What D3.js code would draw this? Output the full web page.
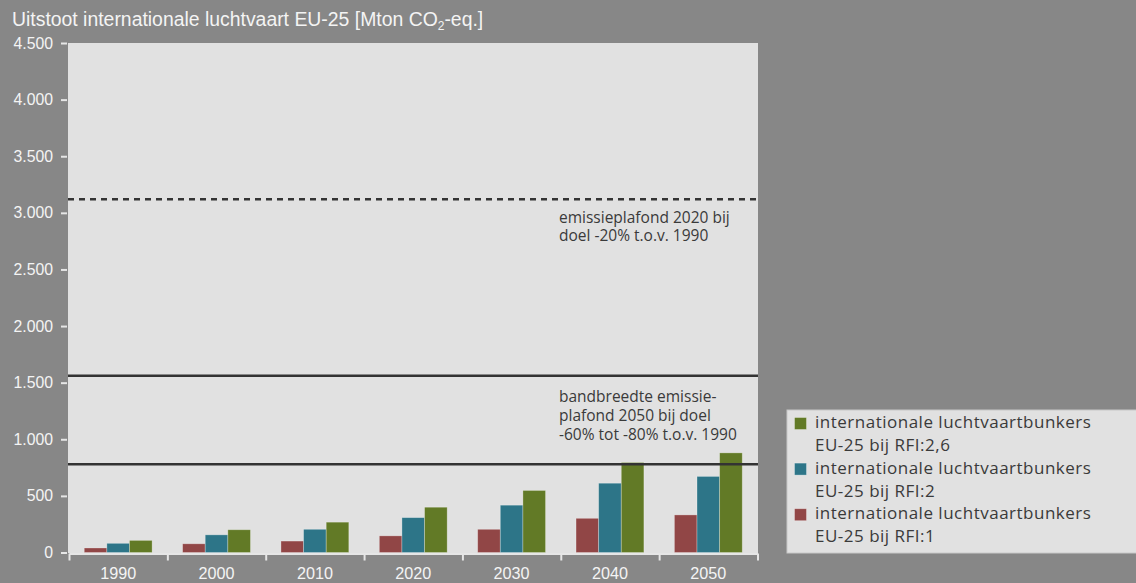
<!DOCTYPE html>
<html>
<head>
<meta charset="utf-8">
<style>
  html, body { margin: 0; padding: 0; background: #878787; }
  svg { display: block; }
</style>
</head>
<body>
<svg width="1136" height="583"></svg>
<script src="https://cdnjs.cloudflare.com/ajax/libs/d3/7.8.5/d3.min.js"></script>
<script>
  // data (Mton CO2-eq.)
  const years = ["1990", "2000", "2010", "2020", "2030", "2040", "2050"];
  const rfi1 = [40, 77, 101, 147, 205, 302, 332];
  const rfi2 = [81, 156, 205, 308, 418, 612, 672];
  const rfi26 = [107, 201, 268, 400, 548, 795, 880];
  const yTicks = [0, 500, 1000, 1500, 2000, 2500, 3000, 3500, 4000, 4500];
  const ceiling2020 = 3120;
  const band2050 = [1560, 780];

  const series = [
    {key: "rfi1", values: rfi1, color: "#914646", label: ["internationale luchtvaartbunkers", "EU-25 bij RFI:1"]},
    {key: "rfi2", values: rfi2, color: "#2d7588", label: ["internationale luchtvaartbunkers", "EU-25 bij RFI:2"]},
    {key: "rfi26", values: rfi26, color: "#627a26", label: ["internationale luchtvaartbunkers", "EU-25 bij RFI:2,6"]}
  ];

  const svg = d3.select("svg");

  const x = d3.scaleBand().domain(years).range([69, 757.5]).paddingInner(0.31).paddingOuter(0.155);
  const xs = d3.scaleBand().domain(series.map(s => s.key)).range([0, x.bandwidth()]);
  const y = d3.scaleLinear().domain([0, 4500]).range([552.5, 43]);

  // plot background
  svg.append("rect")
    .attr("x", 68).attr("y", 43)
    .attr("width", 690).attr("height", 510)
    .attr("fill", "#e1e1e1");

  // title
  const title = svg.append("text")
    .attr("x", 12).attr("y", 26)
    .attr("font-family", "Liberation Sans, Arial, sans-serif")
    .attr("font-size", 19.4)
    .attr("fill", "#f4f4f4");
  title.append("tspan").text("Uitstoot internationale luchtvaart EU-25 [Mton CO");
  title.append("tspan").attr("font-size", 12).attr("dy", 4).text("2");
  title.append("tspan").attr("dy", -4).text("-eq.]");

  // bars
  const groups = svg.append("g").selectAll("g")
    .data(years)
    .join("g")
    .attr("transform", d => "translate(" + x(d) + ",0)");

  groups.selectAll("rect")
    .data((d, i) => series.map(s => ({key: s.key, color: s.color, v: s.values[i]})))
    .join("rect")
    .attr("x", d => xs(d.key))
    .attr("y", d => y(d.v))
    .attr("width", xs.bandwidth())
    .attr("height", d => y(0) - y(d.v))
    .attr("fill", d => d.color)
    .attr("stroke", "rgba(255,255,255,0.35)")
    .attr("stroke-width", 0.8);

  // reference lines
  svg.append("line")
    .attr("x1", 68).attr("x2", 756)
    .attr("y1", y(ceiling2020)).attr("y2", y(ceiling2020))
    .attr("stroke", "#333").attr("stroke-width", 2.5)
    .attr("stroke-dasharray", "6,5");

  svg.selectAll(".band-line")
    .data(band2050)
    .join("line")
    .attr("class", "band-line")
    .attr("x1", 68).attr("x2", 758)
    .attr("y1", d => y(d)).attr("y2", d => y(d))
    .attr("stroke", "#333").attr("stroke-width", 2.5);

  // annotations
  const annoFont = "Open Sans, Noto Sans, sans-serif";
  function multiline(lines, x0, y0, lh) {
    svg.append("text")
      .attr("font-family", annoFont)
      .attr("font-size", 15.5)
      .attr("fill", "#3a3a3a")
      .selectAll("tspan")
      .data(lines)
      .join("tspan")
      .attr("x", x0)
      .attr("y", (d, i) => y0 + i * lh)
      .text(d => d);
  }
  multiline(["emissieplafond 2020 bij", "doel -20% t.o.v. 1990"], 559, 222.5, 18.8);
  multiline(["bandbreedte emissie-", "plafond 2050 bij doel", "-60% tot -80% t.o.v. 1990"], 559, 402, 19.2);

  // y axis
  const yAxis = d3.axisLeft(y)
    .tickValues(yTicks)
    .tickSize(6)
    .tickPadding(8)
    .tickFormat(d => d3.format(",")(d).replace(/,/g, "."));
  const ya = svg.append("g")
    .attr("transform", "translate(" + [67, 0] + ")")
    .call(yAxis);
  ya.select(".domain").remove();
  ya.selectAll("line").attr("stroke", "#e6e6e6").attr("stroke-width", 2);
  ya.selectAll("text")
    .attr("fill", "#f4f4f4")
    .attr("font-family", "Liberation Sans, Arial, sans-serif")
    .attr("font-size", 15.8);

  // x axis: boundary ticks + centred year labels
  const xb = d3.scaleLinear().domain([0, years.length]).range([69, 757.5]);
  const xa = svg.append("g")
    .attr("transform", "translate(" + [0, 553.5] + ")")
    .call(d3.axisBottom(xb).tickValues(d3.range(years.length + 1)).tickSize(7).tickSizeOuter(0).tickFormat(""));
  xa.select(".domain").attr("stroke", "#e6e6e6").attr("stroke-width", 2);
  xa.selectAll("line").attr("stroke", "#e6e6e6").attr("stroke-width", 2);

  const xl = svg.append("g")
    .attr("transform", "translate(" + [0, 553.5] + ")")
    .call(d3.axisBottom(x).tickSize(0).tickPadding(14));
  xl.select(".domain").remove();
  xl.selectAll("text")
    .attr("fill", "#f4f4f4")
    .attr("font-family", "Liberation Sans, Arial, sans-serif")
    .attr("font-size", 16.2);

  // legend
  const legend = svg.append("g");
  legend.append("rect")
    .attr("x", 787).attr("y", 410)
    .attr("width", 360).attr("height", 143)
    .attr("fill", "#e1e1e1")
    .attr("stroke", "#c8c8c8").attr("stroke-width", 1);

  const items = legend.selectAll("g.item")
    .data(series.slice().reverse())
    .join("g")
    .attr("class", "item")
    .attr("transform", (d, i) => "translate(" + [794.5, 417.5 + i * 45.6] + ")");
  items.append("rect")
    .attr("width", 12).attr("height", 12)
    .attr("fill", d => d.color)
    .attr("stroke", "rgba(255,255,255,0.4)").attr("stroke-width", 0.8);
  items.append("text")
    .attr("font-family", annoFont)
    .attr("font-size", 17)
    .attr("letter-spacing", 0.5)
    .attr("fill", "#3a3a3a")
    .selectAll("tspan")
    .data(d => d.label)
    .join("tspan")
    .attr("x", 20.5)
    .attr("y", (d, i) => 10.5 + i * 23.2)
    .text(d => d);
</script>
</body>
</html>
